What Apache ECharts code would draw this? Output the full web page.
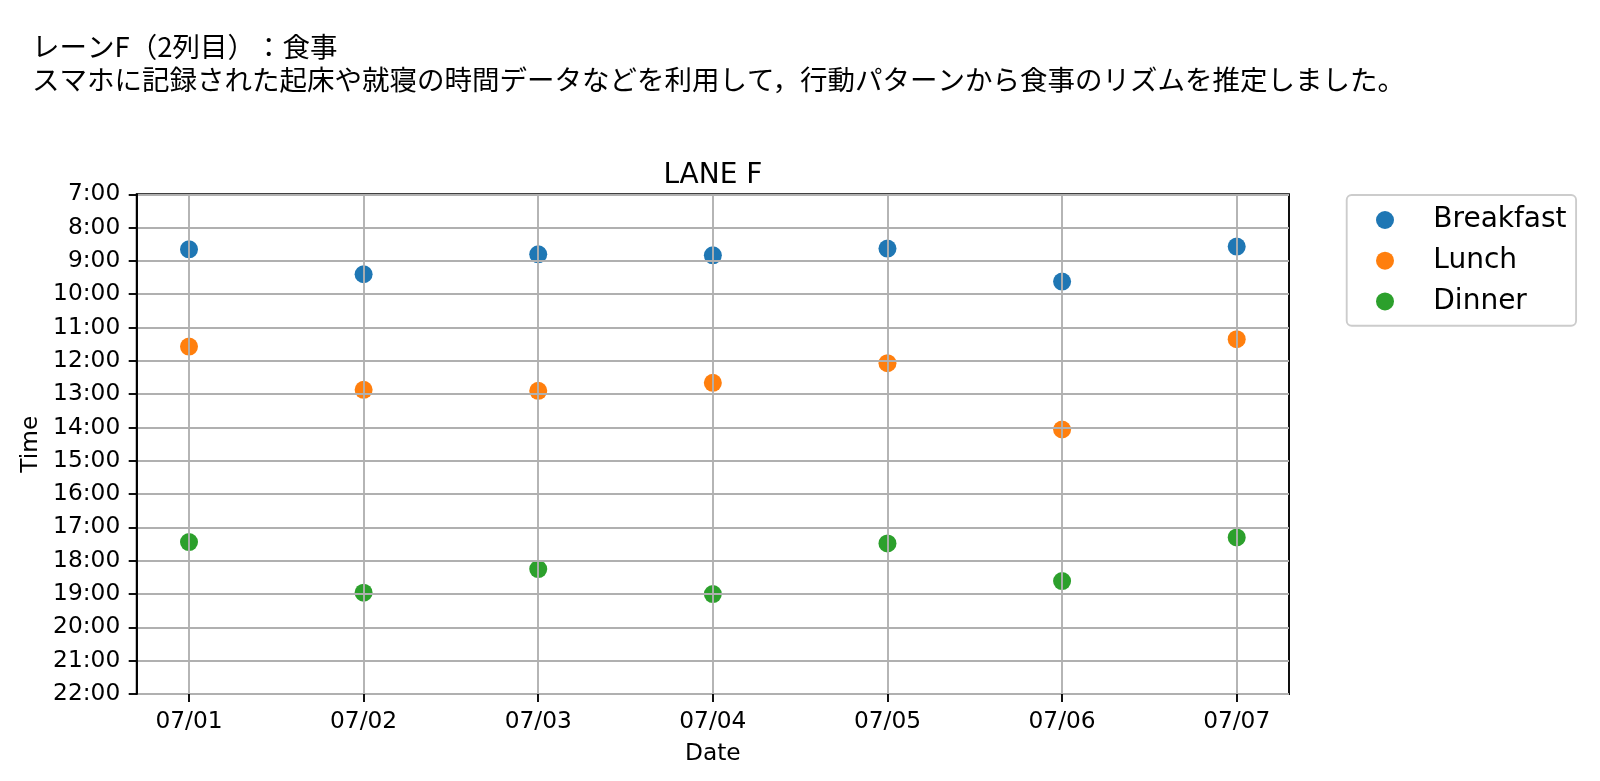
<!DOCTYPE html>
<html lang="ja">
<head>
<meta charset="utf-8">
<script src="https://cdn.jsdelivr.net/npm/echarts@6/dist/echarts.min.js"></script>
<style>html,body{margin:0;padding:0;background:#fff;}#c{width:1600px;height:781px;}
#c, #c *{text-spacing-trim: space-all; font-feature-settings: "halt" 0, "chws" 0;}</style>
</head>
<body>
<div id="c"></div>
<script>
// ---- data ----
const dates = ['07/01','07/02','07/03','07/04','07/05','07/06','07/07'];
const breakfast = [8.65, 9.40, 8.80, 8.83, 8.63, 9.62, 8.57];
const lunch     = [11.57, 12.87, 12.90, 12.66, 12.07, 14.06, 11.35];
const dinner    = [17.44, 18.96, 18.25, 19.00, 17.48, 18.61, 17.30];
const yTickLabels = ['7:00','8:00','9:00','10:00','11:00','12:00','13:00','14:00','15:00','16:00','17:00','18:00','19:00','20:00','21:00','22:00'];
const seriesNames = ['Breakfast','Lunch','Dinner'];
const headerText = 'レーンF（2列目）：食事\nスマホに記録された起床や就寝の時間データなどを利用して，行動パターンから食事のリズムを推定しました。';
const plotTitle = 'LANE F';

// ---- layout ----
const F = 'DejaVu Sans';
const LW = 1.87;
const frame = {left: 136.7, top: 194.3, right: 1600 - 1289, bottom: 781 - 694};
const inner = {left: 189, top: 194.3, width: 1236.7 - 189, bottom: 781 - 694};

const toPts = arr => arr.map((v, i) => [i, v]);
const colors = ['#1f77b4', '#ff7f0e', '#2ca02c'];
const values = [breakfast, lunch, dinner];

const chart = echarts.init(document.getElementById('c'), null, {renderer: 'canvas'});
chart.setOption({
  animation: false,
  backgroundColor: '#fff',
  title: [
    {text: headerText, left: 32, top: 29.5, padding: 0,
     textStyle: {fontFamily: 'Noto Sans CJK JP', fontSize: 27.5, fontWeight: 'normal', color: '#000', lineHeight: 33.3}},
    {text: plotTitle, left: 712.9, textAlign: 'center', top: 162, padding: 0,
     textStyle: {fontFamily: F, fontSize: 28, fontWeight: 'normal', color: '#000', lineHeight: 28}}
  ],
  legend: {
    orient: 'vertical', align: 'left',
    left: 1346.7, top: 195,
    padding: [11, 9.5, 10.3, 29.3],
    itemWidth: 18, itemHeight: 18, itemGap: 12.7,
    icon: 'circle',
    backgroundColor: 'rgba(255,255,255,0.8)',
    borderColor: '#cccccc', borderWidth: LW, borderRadius: 5,
    textStyle: {fontFamily: F, fontSize: 28, color: '#000', padding: [0, 0, 0, 34.3]},
    data: seriesNames
  },
  grid: [
    {left: frame.left, top: frame.top, right: frame.right, bottom: frame.bottom,
     show: true, borderColor: '#000', borderWidth: LW, backgroundColor: 'transparent'},
    {left: inner.left, top: inner.top, width: inner.width, bottom: inner.bottom, show: false}
  ],
  xAxis: [
    {gridIndex: 0, type: 'value', min: 0, max: 1, show: false},
    {gridIndex: 1, type: 'value', min: 0, max: 6, interval: 1, z: 3,
     name: 'Date', nameLocation: 'middle', nameGap: 48,
     nameTextStyle: {fontFamily: F, fontSize: 23.3, color: '#000'},
     axisLine: {show: false},
     axisTick: {show: true, length: 8, lineStyle: {color: '#000', width: LW}},
     axisLabel: {margin: 16, fontFamily: F, fontSize: 23.3, color: '#000',
       formatter: v => dates[Math.round(v)] !== undefined ? dates[Math.round(v)] : ''},
     splitLine: {show: true, lineStyle: {color: '#b0b0b0', width: LW}}}
  ],
  yAxis: [
    {gridIndex: 0, type: 'value', inverse: true, min: 7, max: 22, interval: 1, z: 3,
     name: 'Time', nameLocation: 'middle', nameRotate: 90, nameGap: 86,
     nameTextStyle: {fontFamily: F, fontSize: 23.3, color: '#000'},
     axisLine: {show: true, lineStyle: {color: '#000', width: LW}},
     axisTick: {show: true, length: 8, lineStyle: {color: '#000', width: LW}},
     axisLabel: {margin: 16.5, fontFamily: F, fontSize: 23.3, color: '#000',
       formatter: v => yTickLabels[Math.round(v) - 7] || ''},
     splitLine: {show: true, lineStyle: {color: '#b0b0b0', width: LW}}},
    {gridIndex: 1, type: 'value', inverse: true, min: 7, max: 22, show: false}
  ],
  series: seriesNames.map((name, k) => ({
    name: name, type: 'scatter', xAxisIndex: 1, yAxisIndex: 1,
    symbol: 'circle', symbolSize: 18, z: 2,
    itemStyle: {color: colors[k], opacity: 1},
    data: toPts(values[k])
  }))
});
</script>
</body>
</html>
